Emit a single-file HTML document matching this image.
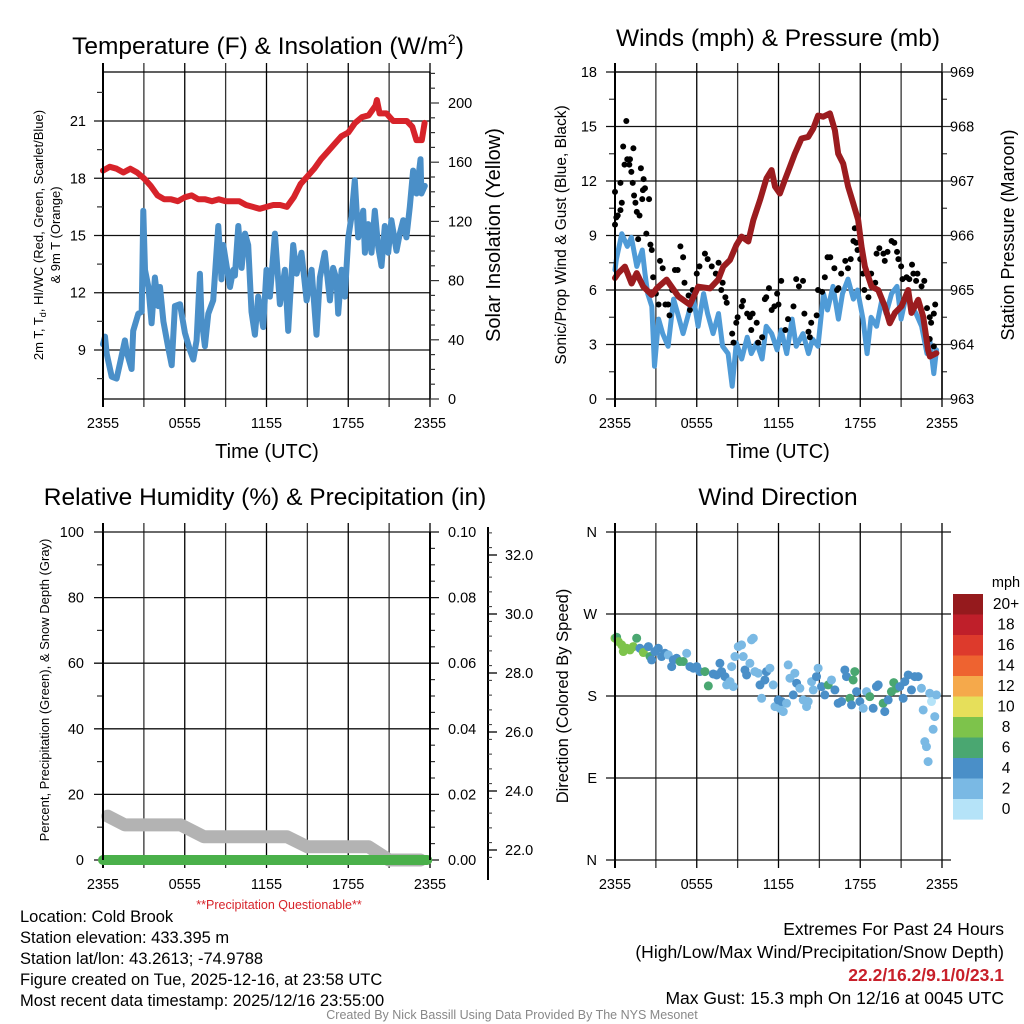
<!DOCTYPE html>
<html><head><meta charset="utf-8">
<style>
html,body{margin:0;padding:0;background:#fff;}
svg{display:block;font-family:"Liberation Sans",Arial,sans-serif;}
</style></head>
<body>
<svg id="chart" width="1024" height="1024" viewBox="0 0 1024 1024" xmlns="http://www.w3.org/2000/svg">
<rect x="0" y="0" width="1024" height="1024" fill="#fff"/>
<g id="under"></g>
<g id="marks"></g>
<g id="axes"></g>
<g font-size="24.5" text-anchor="middle" fill="#000">
<text x="268" y="54">Temperature (F) &amp; Insolation (W/m<tspan font-size="14" dy="-10">2</tspan><tspan dy="10">)</tspan></text>
<text x="778" y="46">Winds (mph) &amp; Pressure (mb)</text>
<text x="265" y="505">Relative Humidity (%) &amp; Precipitation (in)</text>
<text x="778" y="505">Wind Direction</text>
</g>
<g font-size="20" text-anchor="middle">
<text x="267" y="458">Time (UTC)</text>
<text x="778" y="458">Time (UTC)</text>
<text transform="translate(500,235) rotate(-90)">Solar Insolation (Yellow)</text>
<text transform="translate(1014,235) rotate(-90)" font-size="18">Station Pressure (Maroon)</text>
<text transform="translate(566,235) rotate(-90)" font-size="15.5">Sonic/Prop Wind &amp; Gust (Blue, Black)</text>
<text transform="translate(568,696) rotate(-90)" font-size="16.5">Direction (Colored By Speed)</text>
<text transform="translate(43,235) rotate(-90)" font-size="13">2m T, T<tspan font-size="9" dy="3">d</tspan><tspan dy="-3">, HI/WC (Red, Green, Scarlet/Blue)</tspan></text>
<text transform="translate(60,235) rotate(-90)" font-size="13">&amp; 9m T (Orange)</text>
<text transform="translate(49,690) rotate(-90)" font-size="13">Percent, Precipitation (Green), &amp; Snow Depth (Gray)</text>
</g>
<text x="279" y="909" font-size="12.5" fill="#d7232a" text-anchor="middle">**Precipitation Questionable**</text>
<g font-size="16.5" fill="#000">
<text x="20" y="922">Location: Cold Brook</text>
<text x="20" y="943">Station elevation: 433.395 m</text>
<text x="20" y="964">Station lat/lon: 43.2613; -74.9788</text>
<text x="20" y="985">Figure created on Tue, 2025-12-16, at 23:58 UTC</text>
<text x="20" y="1006">Most recent data timestamp: 2025/12/16 23:55:00</text>
</g>
<g font-size="17.5" text-anchor="end" fill="#000">
<text x="1004" y="935">Extremes For Past 24 Hours</text>
<text x="1004" y="958">(High/Low/Max Wind/Precipitation/Snow Depth)</text>
<text x="1004" y="981" font-weight="bold" fill="#c8202a">22.2/16.2/9.1/0/23.1</text>
<text x="1004" y="1004">Max Gust: 15.3 mph On 12/16 at 0045 UTC</text>
</g>
<text x="512" y="1019" font-size="12.5" fill="#888" text-anchor="middle">Created By Nick Bassill Using Data Provided By The NYS Mesonet</text>
</svg>
<script>
// ---- data ----
const timeTickLabels = ['2355','0555','1155','1755','2355'];
const tempHours = [0,0.5,1,1.5,2,2.5,3,3.5,4,4.5,5,5.5,6,6.5,7,7.5,8,8.5,9,9.5,10,10.5,11,11.5,12,12.5,13,13.5,14,14.5,15,15.5,16,16.5,17,17.5,18,18.5,19,19.5,20,20.1,20.3,20.8,21.3,21.8,22.3,22.7,23,23.4,23.6];
const tempValues = [18.4,18.6,18.5,18.3,18.5,18.3,18.0,17.6,17.1,16.9,16.9,16.8,17.0,17.1,16.9,16.9,16.8,16.9,16.8,16.8,16.8,16.6,16.5,16.4,16.5,16.6,16.6,16.5,17.0,17.7,18.1,18.5,19.0,19.4,19.8,20.2,20.4,20.9,21.2,21.3,21.8,22.1,21.4,21.4,21.0,21.0,21.0,20.7,20.0,20.0,20.9];
const dewHours = [0,0.15,0.27,0.64,1.0,1.25,1.61,1.74,2.1,2.22,2.59,2.84,2.96,3.08,3.33,3.57,3.81,4.06,4.18,4.43,4.79,5.04,5.28,5.65,6.01,6.38,6.63,6.87,7.11,7.24,7.48,7.73,8.09,8.46,8.7,8.83,9.07,9.32,9.56,9.68,9.93,10.17,10.42,10.66,10.9,11.15,11.39,11.76,12.0,12.25,12.62,12.98,13.35,13.59,13.96,14.21,14.57,14.94,15.31,15.67,15.92,16.28,16.65,16.89,17.14,17.26,17.51,17.75,18.0,18.24,18.48,18.73,18.97,19.1,19.22,19.46,19.71,19.95,20.2,20.44,20.68,20.93,21.17,21.54,21.78,22.03,22.27,22.52,22.76,23.01,23.3,23.37,23.62];
const dewValues = [9.3,9.7,8.8,7.6,7.5,8.3,9.5,8.9,8.0,10.0,10.9,11.0,16.3,13.2,12.3,10.4,12.8,11.3,12.3,10.5,9.1,8.2,11.3,11.4,9.9,9.0,8.5,9.5,13.0,10.6,9.2,10.9,11.6,15.5,12.7,14.5,13.4,12.3,13.2,12.9,15.5,13.3,15.1,14.5,11.0,9.8,11.8,10.2,13.2,11.8,15.1,11.4,13.2,10.0,14.5,13.0,14.1,11.6,13.2,9.8,12.8,14.1,11.6,13.3,12.7,10.9,13.2,11.8,14.9,16.0,17.9,14.9,15.8,16.3,14.1,15.6,14.1,16.3,14.4,13.4,15.5,14.1,15.8,14.2,15.1,15.8,14.9,16.5,18.4,17.2,19.0,17.2,17.6];
const pressHours = [0,0.24,0.73,1.22,1.59,2.08,2.69,3.06,3.79,4.65,5.5,6.11,6.97,7.58,7.95,8.44,8.92,9.29,9.78,10.15,10.64,11.12,11.49,11.74,12.1,12.47,12.84,13.2,13.69,14.18,14.55,14.91,15.28,15.77,16.14,16.38,16.75,17.11,17.48,17.85,18.09,18.34,18.83,19.32,19.8,20.17,20.54,21.03,21.52,21.76,22.25,22.62,22.98,23.11,23.59];
const pressValues = [965.22,965.31,965.43,965.12,965.31,965.06,964.91,965.03,965.19,964.88,964.73,965.06,965.03,965.19,965.43,965.55,965.83,965.98,965.89,966.28,966.65,967.05,967.2,966.9,966.77,967.02,967.26,967.5,967.78,967.81,967.96,968.2,968.18,968.24,967.93,967.5,967.32,966.9,966.59,966.28,965.8,965.43,965.06,965.0,964.7,964.39,964.58,964.7,965.0,964.58,964.82,964.51,963.9,963.78,963.84];
const windHours = [0,0.1,0.5,0.9,1.2,1.6,2.0,2.2,2.4,2.7,2.9,3.2,3.5,3.9,4.3,4.6,5.0,5.4,5.7,6.1,6.5,6.8,7.2,7.6,7.9,8.3,8.6,8.9,9.3,9.7,10.0,10.4,10.8,11.1,11.5,11.9,12.2,12.6,13.0,13.3,13.8,14.2,14.5,14.9,15.3,15.6,16.0,16.4,16.7,17.1,17.5,17.8,18.2,18.5,18.8,19.2,19.6,19.9,20.3,20.7,21.0,21.4,21.8,22.1,22.5,22.9,23.1,23.4,23.6];
const windValues = [7.1,7.7,9.1,8.4,8.9,7.3,8.2,6.9,5.8,5.1,1.8,4.4,3.6,2.9,5.5,4.7,3.6,4.7,5.8,4.0,5.8,4.7,3.6,4.7,2.9,2.5,0.7,3.1,2.2,3.4,2.5,3.1,2.2,4.0,3.6,2.7,3.8,2.5,4.4,2.9,3.6,2.5,3.3,2.9,5.8,4.9,6.2,4.4,5.8,6.6,5.5,6.0,4.4,2.5,4.5,4.0,5.5,4.7,5.8,6.2,4.4,5.8,5.1,4.7,4.0,2.5,3.3,1.4,2.7];
const gustHours = [0,0,0.1,0.2,0.4,0.4,0.5,0.6,0.83,0.7,0.9,1.05,1.1,1.2,1.3,1.35,1.4,1.5,1.6,1.7,1.8,1.9,2.0,2.05,2.1,2.2,2.3,2.5,2.6,2.7,2.8,3.0,3.2,3.3,3.5,3.7,3.9,4.0,4.2,4.4,4.6,4.8,5.0,5.1,5.4,5.5,5.7,6.0,6.2,6.6,6.8,7.1,7.4,7.6,7.8,7.9,8.1,8.2,8.6,8.7,8.9,9.0,9.3,9.4,9.7,9.9,10.0,10.1,10.4,10.5,10.8,11.0,11.1,11.3,11.5,11.7,11.9,12.0,12.2,12.5,12.7,13.1,13.3,13.5,13.8,13.9,14.2,14.3,14.4,14.8,14.9,15.2,15.4,15.6,15.8,16.1,16.3,16.4,16.6,16.9,17.1,17.3,17.5,17.6,17.7,17.8,18.0,18.2,18.3,18.6,18.8,19.1,19.2,19.4,19.7,19.8,20.0,20.3,20.5,20.7,20.8,21.0,21.1,21.4,21.6,21.8,21.9,22.1,22.2,22.5,22.7,22.9,23.1,23.2,23.4,23.5,23.1,23.4];
const gustValues = [9.6,11.4,10.0,10.1,10.4,11.9,10.8,13.9,15.3,12.9,13.2,12.9,13.2,12.5,11.9,13.8,11.2,10.8,10.3,8.8,10.1,12.7,11.0,11.5,12.1,11.6,9.1,11.0,8.5,8.2,6.7,5.8,5.2,7.6,7.2,5.2,5.2,4.6,6.0,7.1,7.1,8.4,7.8,6.4,5.7,4.9,6.0,6.9,7.3,8.0,7.7,7.3,6.9,7.5,6.0,6.4,5.6,5.3,3.6,3.1,4.2,4.5,5.1,5.4,4.7,4.5,3.8,4.7,4.2,3.1,3.4,5.5,5.6,6.1,4.9,5.1,5.8,5.2,6.5,3.8,4.4,5.1,6.6,6.2,6.5,4.7,3.7,3.4,4.2,4.6,6.0,5.9,6.7,7.8,7.8,7.2,6.0,6.1,6.9,7.6,7.2,7.7,8.7,9.4,8.6,8.2,7.7,6.9,6.0,5.6,6.9,6.4,8.0,8.3,8.0,7.6,8.1,8.7,8.6,8.1,7.7,7.3,6.6,6.7,6.6,7.4,6.9,6.5,6.9,6.2,6.5,5.0,4.5,4.2,4.7,5.2,3.3,2.9];
const snowHours = [0.35,1.6,5.7,7.4,13.5,15.0,19.5,21.0,23.3];
const snowValues = [23.15,22.85,22.85,22.45,22.45,22.11,22.11,21.66,21.66];
const precipHours = [0,23.8];
const precipValues = [0,0];
const dirHours = [0,0.12,0.24,0.49,0.61,0.86,1.1,1.34,1.59,1.83,2.08,2.45,2.57,2.69,2.93,3.18,3.42,3.67,3.91,4.16,4.28,4.52,4.77,5.01,5.26,5.5,5.75,5.99,6.23,6.6,6.85,7.21,7.46,7.7,7.82,8.07,8.19,8.44,8.56,8.68,8.8,9.05,9.29,9.41,9.54,9.66,9.9,10.02,10.15,10.27,10.51,10.64,10.76,11.0,11.12,11.37,11.61,11.74,11.98,12.1,12.23,12.35,12.59,12.71,12.84,13.08,13.2,13.33,13.57,13.81,14.06,14.18,14.43,14.55,14.79,14.91,15.16,15.4,15.65,15.89,16.14,16.38,16.63,16.87,16.99,17.24,17.36,17.48,17.6,17.73,17.97,18.22,18.46,18.7,18.95,19.19,19.32,19.68,19.8,20.05,20.29,20.46,20.66,20.9,21.15,21.27,21.52,21.76,22.0,22.25,22.49,22.62,22.74,22.86,22.98,23.1,23.23,23.35,23.47,23.59];
const dirValues = [243.4,244.5,239.7,236.1,228.8,232.4,230.6,234.2,243.4,232.4,227.7,234.2,223.3,219.6,228.8,232.4,223.3,226.9,225.1,212.3,219.6,221.4,217.8,217.8,226.9,212.3,210.5,212.3,206.8,206.8,191.1,204.2,203.1,215.9,206.8,201.3,192.2,195.8,212.3,190.3,223.3,234.2,236.1,223.3,208.6,203.1,215.9,241.6,243.4,206.8,205.0,192.2,177.5,197.6,206.8,210.5,192.2,168.4,175.7,166.5,173.9,162.9,172.0,214.1,199.5,181.2,205.0,194.0,188.5,175.7,168.4,173.9,195.8,186.7,201.3,210.5,190.3,181.2,192.2,197.6,186.7,172.0,173.9,208.6,201.3,177.5,170.2,197.6,206.8,184.8,173.9,166.5,184.8,179.3,166.5,190.3,192.2,172.0,162.9,175.7,184.8,194.7,188.5,190.3,177.5,195.8,203.1,186.7,201.3,201.3,188.5,164.7,129.9,124.4,108.0,183.0,173.9,143.5,157.4,181.2];
const dirSpeeds = [8,7,8,8,8,8,8,8,6,4,8,4,6,4,4,4,4,4,2,4,4,4,6,6,2,4,4,4,4,6,6,4,4,4,4,4,2,2,2,2,2,2,2,2,4,4,2,2,2,2,2,4,2,4,4,2,2,2,4,2,4,2,2,2,2,4,2,4,2,2,2,2,2,2,4,2,4,4,6,2,4,4,4,4,4,6,4,6,6,4,4,2,2,6,4,4,4,6,4,4,6,6,6,4,4,4,4,4,4,4,2,2,2,2,2,2,0,2,2,2];
const legendLabels = ['20+','18','16','14','12','10','8','6','4','2','0'];
const legendColors = ['#951a1d','#bf1f2a','#dd3a2c','#ee6330','#f5a94b','#e6df5a','#7dc34b','#4aa771','#4a8fc8','#7ab9e4','#b5e3f8'];
const tempTicks = [9,12,15,18,21];
const insolTicks = [0,40,80,120,160,200];
const windTicks = [0,3,6,9,12,15,18];
const pressTicks = [963,964,965,966,967,968,969];
const rhTicks = [0,20,40,60,80,100];
const precipTicks = ['0.00','0.02','0.04','0.06','0.08','0.10'];
const snowTicks = [22,24,26,28,30,32];
const dirTicks = ['N','E','S','W','N'];

// ---- helpers ----
const NS = 'http://www.w3.org/2000/svg';
const under = document.getElementById('under');
const marks = document.getElementById('marks');
const axes = document.getElementById('axes');
function el(tag, parent, name){
  const e = document.createElementNS(NS, tag);
  
  
  parent.appendChild(e);
  return e;
}
function ln(parent, name, x1,y1,x2,y2, w, c){
  const e = el('line', parent, name);
  e.setAttribute('x1',x1); e.setAttribute('y1',y1); e.setAttribute('x2',x2); e.setAttribute('y2',y2);
  e.setAttribute('stroke', c||'#000'); e.setAttribute('stroke-width', w||1.2);
  return e;
}
function tx(parent, name, x, y, s, anchor, size){
  const e = el('text', parent, name);
  e.setAttribute('x',x); e.setAttribute('y',y);
  e.setAttribute('text-anchor', anchor||'middle');
  e.setAttribute('font-size', size||14);
  e.textContent = s;
  return e;
}
function poly(parent, name, xs, ys, color, w){
  const e = el('polyline', parent, name);
  e.setAttribute('points', xs.map((x,i)=>x.toFixed(1)+','+ys[i].toFixed(1)).join(' '));
  e.setAttribute('fill','none'); e.setAttribute('stroke',color); e.setAttribute('stroke-width',w);
  e.setAttribute('stroke-linejoin','round'); e.setAttribute('stroke-linecap','round');
  return e;
}
function dot(parent, name, x, y, r, color){
  const e = el('circle', parent, name);
  e.setAttribute('cx',x); e.setAttribute('cy',y); e.setAttribute('r',r); e.setAttribute('fill',color);
  return e;
}
function timeAxis(x0, x1, y0, y1, pname){
  const sx = h => x0 + h/24*(x1-x0);
  for(let i=0;i<=8;i++){
    const x = sx(i*3);
    ln(under, pname+'-v-gridline', x, y0-9, x, y1+8, i===0?2:1.3, i%2?'#333':'#000');
  }
  timeTickLabels.forEach((s,i)=>{ tx(axes, pname+'-x-tick-label', sx(i*6), y1+29, s, 'middle', 14.5); });
  return sx;
}
function hGrid(pname, x0, x1, y, extL, extR){
  ln(under, pname+'-h-gridline', x0-extL, y, x1+extR, y, 1.3, '#111');
}

// ---- Panel 1: temperature ----
{
  const x0=103,x1=430,y0=72,y1=399;
  const sx = timeAxis(x0,x1,y0,y1,'temp');
  const sy = t => y1 - (t-6.43)/(23.57-6.43)*(y1-y0);
  const si = w => y1 - w*1.48;
  ln(axes,'temp-top-border',x0,y0,x1,y0,1.3);
  ln(axes,'temp-bottom-border',x0,y1,x1,y1,1.3);
  ln(axes,'temp-left-border',x0,y0,x0,y1,2);
  ln(axes,'temp-right-border',x1,y0,x1,y1,1.5);
  tempTicks.forEach(t=>{ hGrid('temp',x0,x1,sy(t),9,0); tx(axes,'temp-y-tick-label',86,sy(t)+5,String(t),'end',14.5); });
  [7.5,10.5,13.5,16.5,19.5,22.5].forEach(t=>ln(axes,'temp-minor-tick',x0-6,sy(t),x0,sy(t),1.2,'#333'));
  for(let w=0; w<=220; w+=10){ ln(axes,'insolation-tick',x1,si(w),x1+(w%40===0?9:5),si(w),1.2,'#333'); }
  insolTicks.forEach(w=>tx(axes,'insolation-tick-label',448,si(w)+5,String(w),'start',14.5));
  poly(marks,'dewpoint-line',dewHours.map(sx),dewValues.map(sy),'#4a8fc8',6);
  poly(marks,'temperature-line',tempHours.map(sx),tempValues.map(sy),'#d7232a',6);
}
// ---- Panel 2: winds ----
{
  const x0=615,x1=942,y0=72,y1=399;
  const sx = timeAxis(x0,x1,y0,y1,'wind');
  const sy = v => y1 - v*(y1-y0)/18;
  const sp = p => y1 - (p-963)*(y1-y0)/6;
  windTicks.forEach(v=>{ hGrid('wind',x0,x1,sy(v),9,0); tx(axes,'wind-y-tick-label',597,sy(v)+5,String(v),'end',14.5); });
  for(let v=1.5; v<18; v+=3) ln(axes,'wind-minor-tick',x0-6,sy(v),x0,sy(v),1.2,'#333');
  for(let p=963; p<=969.01; p+=0.5) ln(axes,'pressure-tick',x1,sp(p),x1+(Math.abs(p-Math.round(p))<0.01?9:5),sp(p),1.2,'#333');
  pressTicks.forEach(p=>tx(axes,'pressure-tick-label',950,sp(p)+5,String(p),'start',14.5));
  ln(axes,'wind-left-border',x0,y0,x0,y1,2);
  ln(axes,'wind-right-border',x1,y0,x1,y1,1.5);
  ln(axes,'wind-top-border',x0,y0,x1,y0,1.3);
  ln(axes,'wind-bottom-border',x0,y1,x1,y1,1.3);
  poly(marks,'sonic-wind-line',windHours.map(sx),windValues.map(sy),'#4f9bd7',5);
  gustHours.forEach((h,i)=>{ dot(marks,'gust-point',sx(h),sy(gustValues[i]),3,'#000'); });
  poly(marks,'pressure-line',pressHours.map(sx),pressValues.map(sp),'#9b1c1f',6);
}
// ---- Panel 3: humidity ----
{
  const x0=103,x1=430,y0=532,y1=860;
  const sx = timeAxis(x0,x1,y0,y1,'rh');
  const sy = v => y1 - v*(y1-y0)/100;
  const sprec = p => y1 - p*(y1-y0)/0.1;
  const ss = s => 850 - (s-22)*29.5;
  rhTicks.forEach((v,i)=>{ hGrid('rh',x0,x1,sy(v),9,9); tx(axes,'rh-y-tick-label',84,sy(v)+5,String(v),'end',14.5); tx(axes,'precip-tick-label',448,sy(v)+5,precipTicks[i],'start',14.5); });
  for(let v=10; v<100; v+=20) ln(axes,'rh-minor-tick',x0-6,sy(v),x0,sy(v),1.2,'#333');
  for(let v=5; v<100; v+=5) if(v%20) ln(axes,'precip-minor-tick',x1,sy(v),x1+5,sy(v),1.2,'#333');
  ln(axes,'rh-left-border',x0,y0,x0,y1,2);
  ln(axes,'rh-right-border',x1,y0,x1,y1,2);
  ln(axes,'snow-axis-line',488,y0-5,488,y1+20,2);
  for(let s=21.75; s<=32.8; s+=0.5) ln(axes,'snow-minor-tick',488,ss(s),492,ss(s),1,'#333');
  snowTicks.forEach(s=>{ ln(axes,'snow-tick',488,ss(s),497,ss(s),1.3); tx(axes,'snow-tick-label',505,ss(s)+5,s.toFixed(1),'start',14.5); });
  poly(marks,'snow-depth-line',snowHours.map(sx),snowValues.map(ss),'#b3b3b3',13);
  poly(marks,'precipitation-line',precipHours.map(sx),precipValues.map(sprec),'#4ab04a',10);
}
// ---- Panel 4: wind direction ----
{
  const x0=615,x1=942,y0=532,y1=860;
  const sx = timeAxis(x0,x1,y0,y1,'dir');
  const sy = d => y1 - d*(y1-y0)/360;
  dirTicks.forEach((s,i)=>{ hGrid('dir',x0,x1,sy(i*90),9,9); tx(axes,'direction-tick-label',597,sy(i*90)+5,s,'end',14.5); });
  ln(axes,'dir-left-border',x0,y0,x0,y1,2);
  const col = s => legendColors[10 - Math.min(10, Math.floor((s===undefined?2:s)/2))];
  dirHours.forEach((h,i)=>{ dot(marks,'direction-point',sx(h),sy(dirValues[i]),4.5,col(dirSpeeds[i])); });
  const lg = el('g', axes, 'speed-legend');
  tx(lg,'legend-title',1006,587,'mph','middle',14.5);
  legendLabels.forEach((s,i)=>{
    const r = el('rect', lg, 'legend-swatch');
    r.setAttribute('x',953); r.setAttribute('y',594+i*20.5); r.setAttribute('width',30); r.setAttribute('height',20.6);
    r.setAttribute('fill',legendColors[i]);
    tx(lg,'legend-label',1006,609+i*20.5,s,'middle',15.5);
  });
}
</script>
</body></html>
